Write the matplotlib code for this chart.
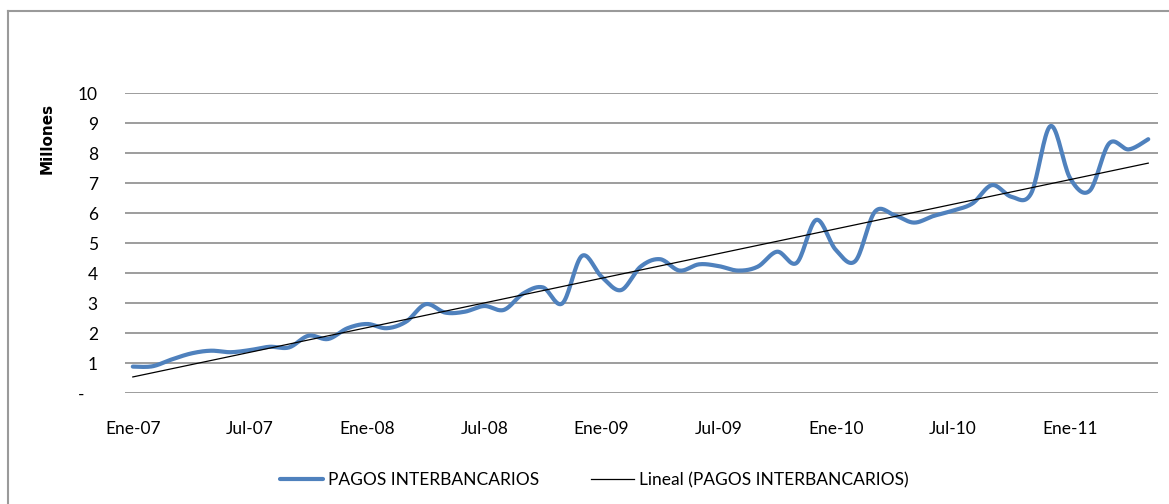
import numpy as np
import matplotlib
matplotlib.use('Agg')
import matplotlib.pyplot as plt
from matplotlib.lines import Line2D

# Monthly values, Ene-07 .. May-11 (millions)
pagos = [0.88, 0.89, 1.12, 1.32, 1.41, 1.36, 1.43, 1.54, 1.52, 1.91,
         1.80, 2.16, 2.30, 2.16, 2.38, 2.96, 2.68, 2.71, 2.90, 2.77,
         3.32, 3.52, 2.99, 4.57, 3.88, 3.43, 4.21, 4.46, 4.08, 4.29,
         4.23, 4.08, 4.21, 4.71, 4.34, 5.77, 4.77, 4.40, 6.04, 5.93,
         5.68, 5.90, 6.08, 6.32, 6.93, 6.54, 6.65, 8.90, 7.16, 6.74,
         8.32, 8.12, 8.46]
tick_months = [0, 6, 12, 18, 24, 30, 36, 42, 48]
tick_labels = ['Ene-07', 'Jul-07', 'Ene-08', 'Jul-08', 'Ene-09',
               'Jul-09', 'Ene-10', 'Jul-10', 'Ene-11']
y_ticks = list(range(0, 11))
y_labels = ['-   '] + [str(v) for v in range(1, 11)]

plt.rcParams['font.family'] = ['Lato', 'DejaVu Sans']


def smooth(xs, ys, n=20):
    # Excel-like smoothed line: cubic Bezier with Catmull-Rom control points
    p = np.column_stack([xs, ys]).astype(float)
    p = np.vstack([p[0], p, p[-1]])
    out = []
    t = np.linspace(0, 1, n)[:, None]
    for i in range(1, len(p) - 2):
        p0, p3 = p[i], p[i + 1]
        c1 = p0 + (p[i + 1] - p[i - 1]) / 6
        c2 = p3 - (p[i + 2] - p[i]) / 6
        seg = ((1 - t) ** 3) * p0 + 3 * ((1 - t) ** 2) * t * c1 \
            + 3 * (1 - t) * t ** 2 * c2 + t ** 3 * p3
        out.append(seg if i == 1 else seg[1:])
    out = np.vstack(out)
    return out[:, 0], out[:, 1]


x = np.arange(len(pagos))
sx, sy = smooth(x, pagos)
slope, intercept = np.polyfit(x, pagos, 1)

W, H = 1169, 504
fig = plt.figure(figsize=(W / 100, H / 100), dpi=100)
ax = fig.add_axes([125 / W, 111 / H, 1033 / W, 300 / H])

ax.plot(sx, sy, color='#4F81BD', lw=3.0, solid_capstyle='round',
        label='PAGOS INTERBANCARIOS', zorder=3)
ax.plot([x[0], x[-1]], [intercept, intercept + slope * x[-1]],
        color='black', lw=0.9, label='Lineal (PAGOS INTERBANCARIOS)',
        zorder=4)

ax.set_xlim(-0.4, 52.5)
ax.set_ylim(0, 10)
ax.set_yticks(y_ticks)
ax.set_yticklabels(y_labels)
ax.set_xticks(tick_months)
ax.set_xticklabels(tick_labels)
ax.tick_params(length=0, labelsize=12.5, colors='black')
ax.tick_params(axis='x', pad=20)
ax.tick_params(axis='y', pad=19.5)
ax.yaxis.grid(True, color='#8c8c8c', lw=1.2)
ax.set_axisbelow(True)
for s in ax.spines.values():
    s.set_visible(False)

fig.text(47 / W, 1 - 138 / H, 'Millones', rotation=90, ha='center',
         va='center', fontsize=11, fontweight='bold', family='DejaVu Sans')

fig.legend(loc='center', bbox_to_anchor=(594 / W, 24 / H), ncol=2,
           frameon=False, fontsize=12.5, handlelength=2.5,
           handletextpad=0.25, columnspacing=3.0)

# outer chart frame (only left and top visible)
fig.add_artist(Line2D([7.5 / W, 7.5 / W], [0, 1 - 10.5 / H],
                      transform=fig.transFigure, color='#9a9a9a', lw=1.5))
fig.add_artist(Line2D([7.5 / W, 1], [1 - 10.5 / H, 1 - 10.5 / H],
                      transform=fig.transFigure, color='#9a9a9a', lw=1.5))

fig.savefig('out.png', dpi=100)
